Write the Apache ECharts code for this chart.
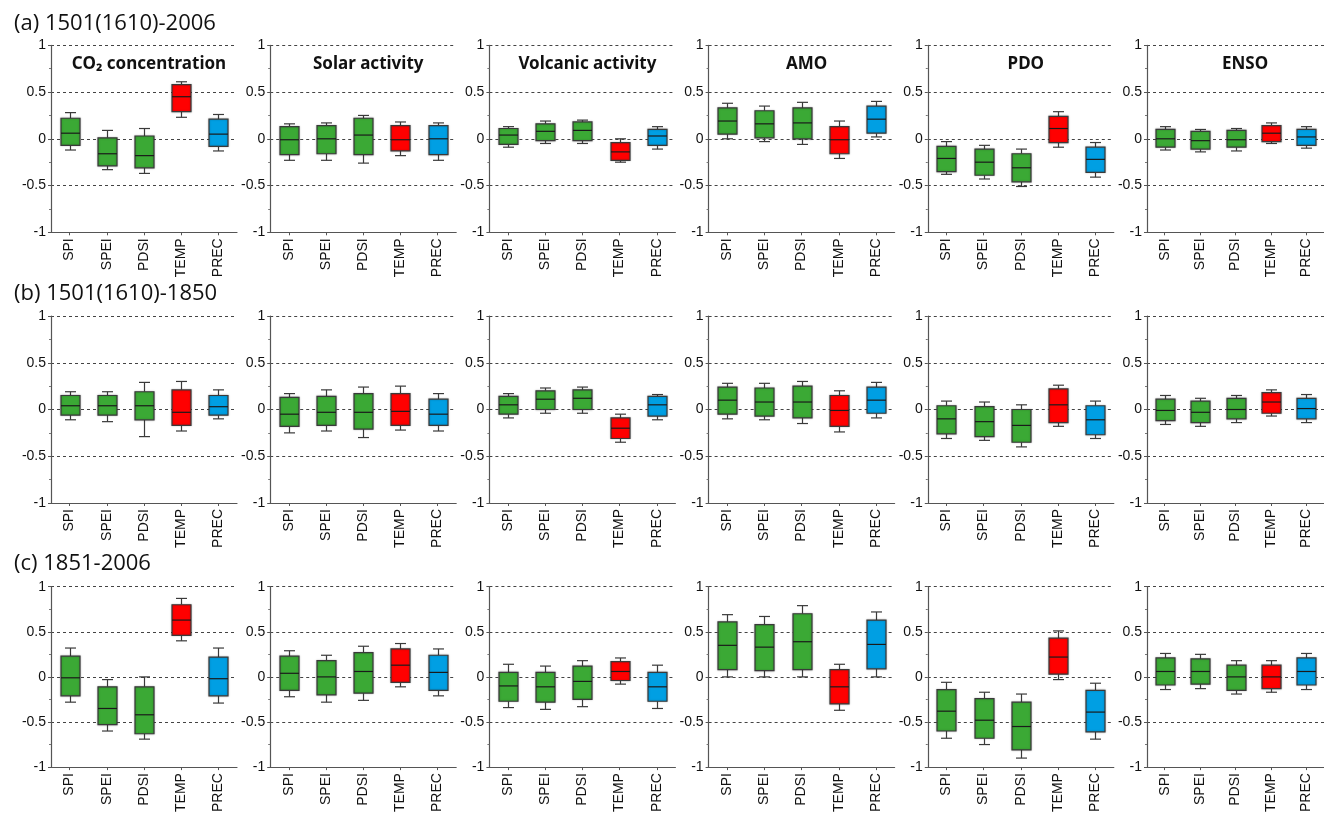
<!DOCTYPE html>
<html>
<head>
<meta charset="utf-8">
<script src="https://cdn.jsdelivr.net/npm/echarts@6/dist/echarts.min.js"></script>
<style>
html,body{margin:0;padding:0;background:#fff;}
#chart{width:1324px;height:815px;}
</style>
</head>
<body>
<div id="chart"></div>
<script>
// ---------- DATA ----------
const categories = ['SPI', 'SPEI', 'PDSI', 'TEMP', 'PREC'];
const yTicks = [-1, -0.5, 0, 0.5, 1];
const rowLabels = ['(a) 1501(1610)-2006', '(b) 1501(1610)-1850', '(c) 1851-2006'];
const panelTitles = ['CO\u2082 concentration', 'Solar activity', 'Volcanic activity', 'AMO', 'PDO', 'ENSO'];

// each box: [min, Q1, median, Q3, max]   (SPI, SPEI, PDSI, TEMP, PREC)
// (a) 1501(1610)-2006
const a_CO2 = [[-0.12,-0.07,0.06,0.22,0.28],[-0.33,-0.29,-0.16,0.01,0.09],[-0.37,-0.31,-0.18,0.03,0.11],[0.23,0.29,0.45,0.58,0.61],[-0.13,-0.08,0.05,0.21,0.26]];
const a_Solar = [[-0.23,-0.17,-0.01,0.13,0.16],[-0.23,-0.16,0.00,0.14,0.17],[-0.26,-0.17,0.04,0.22,0.25],[-0.18,-0.13,-0.01,0.14,0.18],[-0.23,-0.17,0.00,0.14,0.17]];
const a_Volc = [[-0.09,-0.06,0.04,0.11,0.13],[-0.05,-0.02,0.08,0.16,0.19],[-0.05,-0.02,0.09,0.18,0.20],[-0.25,-0.23,-0.14,-0.04,0.00],[-0.11,-0.07,0.03,0.10,0.13]];
const a_AMO = [[0.00,0.05,0.19,0.33,0.38],[-0.03,0.01,0.16,0.30,0.35],[-0.06,0.00,0.17,0.33,0.39],[-0.21,-0.16,-0.01,0.13,0.19],[0.02,0.06,0.21,0.35,0.40]];
const a_PDO = [[-0.38,-0.35,-0.21,-0.08,-0.03],[-0.43,-0.39,-0.25,-0.11,-0.07],[-0.51,-0.46,-0.31,-0.16,-0.11],[-0.09,-0.04,0.11,0.24,0.29],[-0.41,-0.36,-0.22,-0.09,-0.04]];
const a_ENSO = [[-0.12,-0.09,0.00,0.10,0.13],[-0.14,-0.11,-0.02,0.08,0.10],[-0.13,-0.09,-0.01,0.09,0.11],[-0.05,-0.03,0.06,0.14,0.17],[-0.10,-0.07,0.02,0.10,0.13]];
// (b) 1501(1610)-1850
const b_CO2 = [[-0.11,-0.06,0.04,0.15,0.19],[-0.13,-0.06,0.04,0.15,0.19],[-0.29,-0.11,0.04,0.19,0.29],[-0.23,-0.17,-0.03,0.21,0.30],[-0.10,-0.06,0.03,0.15,0.21]];
const b_Solar = [[-0.25,-0.18,-0.05,0.13,0.17],[-0.23,-0.17,-0.03,0.14,0.21],[-0.30,-0.21,-0.03,0.17,0.24],[-0.22,-0.17,-0.02,0.17,0.25],[-0.23,-0.17,-0.05,0.11,0.17]];
const b_Volc = [[-0.09,-0.05,0.05,0.14,0.17],[-0.04,0.00,0.11,0.20,0.23],[-0.04,0.00,0.12,0.21,0.24],[-0.35,-0.31,-0.20,-0.09,-0.05],[-0.11,-0.07,0.05,0.14,0.16]];
const b_AMO = [[-0.10,-0.05,0.10,0.24,0.28],[-0.11,-0.07,0.08,0.23,0.28],[-0.15,-0.09,0.08,0.25,0.30],[-0.24,-0.18,-0.01,0.15,0.20],[-0.09,-0.04,0.10,0.24,0.29]];
const b_PDO = [[-0.31,-0.26,-0.10,0.04,0.09],[-0.33,-0.29,-0.13,0.03,0.08],[-0.40,-0.35,-0.17,0.00,0.05],[-0.18,-0.14,0.05,0.22,0.26],[-0.31,-0.27,-0.11,0.04,0.09]];
const b_ENSO = [[-0.16,-0.12,-0.01,0.11,0.15],[-0.18,-0.14,-0.03,0.09,0.12],[-0.14,-0.10,0.00,0.12,0.15],[-0.07,-0.04,0.08,0.18,0.21],[-0.14,-0.10,0.01,0.12,0.16]];
// (c) 1851-2006
const c_CO2 = [[-0.28,-0.21,-0.01,0.23,0.32],[-0.60,-0.53,-0.35,-0.11,-0.03],[-0.69,-0.63,-0.42,-0.11,0.00],[0.40,0.46,0.63,0.80,0.87],[-0.29,-0.21,-0.02,0.22,0.32]];
const c_Solar = [[-0.22,-0.15,0.04,0.23,0.29],[-0.28,-0.20,0.00,0.18,0.24],[-0.26,-0.18,0.06,0.27,0.34],[-0.11,-0.06,0.13,0.31,0.37],[-0.21,-0.15,0.05,0.24,0.31]];
const c_Volc = [[-0.34,-0.27,-0.10,0.05,0.14],[-0.36,-0.28,-0.11,0.05,0.12],[-0.33,-0.25,-0.05,0.12,0.18],[-0.08,-0.04,0.06,0.17,0.21],[-0.35,-0.27,-0.11,0.05,0.13]];
const c_AMO = [[0.00,0.08,0.35,0.61,0.69],[0.00,0.07,0.33,0.58,0.67],[0.00,0.08,0.39,0.70,0.79],[-0.37,-0.30,-0.11,0.08,0.14],[0.00,0.09,0.36,0.63,0.72]];
const c_PDO = [[-0.68,-0.60,-0.38,-0.14,-0.06],[-0.75,-0.68,-0.48,-0.24,-0.17],[-0.90,-0.81,-0.55,-0.28,-0.19],[-0.03,0.03,0.22,0.43,0.51],[-0.69,-0.61,-0.39,-0.15,-0.07]];
const c_ENSO = [[-0.14,-0.09,0.06,0.21,0.26],[-0.13,-0.08,0.06,0.20,0.25],[-0.19,-0.15,0.00,0.13,0.18],[-0.17,-0.13,0.00,0.13,0.18],[-0.14,-0.09,0.06,0.21,0.26]];

const rows = [
  [a_CO2, a_Solar, a_Volc, a_AMO, a_PDO, a_ENSO],
  [b_CO2, b_Solar, b_Volc, b_AMO, b_PDO, b_ENSO],
  [c_CO2, c_Solar, c_Volc, c_AMO, c_PDO, c_ENSO]
];

// ---------- STYLE / LAYOUT ----------
const boxColors = ['#3BA935', '#3BA935', '#3BA935', '#FF0000', '#009FE3'];
const gridTops = [45.3, 316, 586.7];
const gridH = 187;
const gridLeft0 = 51, colStep = 219.2, gridW = 186;
const rowLabelY = [23, 293, 563];

const chart = echarts.init(document.getElementById('chart'), null, {renderer: 'canvas'});

function renderBox(params, api) {
  const xi = api.value(0);
  const pMin = api.coord([xi, api.value(1)]);
  const pQ1 = api.coord([xi, api.value(2)]);
  const pMed = api.coord([xi, api.value(3)]);
  const pQ3 = api.coord([xi, api.value(4)]);
  const pMax = api.coord([xi, api.value(5)]);
  const cx = Math.round(pMin[0]) + 0.5;
  const bw = 19, cw = 11;
  const line = '#3a3a3a';
  const ls = {stroke: line, lineWidth: 1.2};
  return {
    type: 'group',
    children: [
      {type: 'line', shape: {x1: cx, y1: pMax[1], x2: cx, y2: pQ3[1]}, style: ls},
      {type: 'line', shape: {x1: cx, y1: pMin[1], x2: cx, y2: pQ1[1]}, style: ls},
      {type: 'line', shape: {x1: cx - cw / 2, y1: pMax[1], x2: cx + cw / 2, y2: pMax[1]}, style: ls},
      {type: 'line', shape: {x1: cx - cw / 2, y1: pMin[1], x2: cx + cw / 2, y2: pMin[1]}, style: ls},
      {type: 'rect', shape: {x: cx - bw / 2, y: pQ3[1], width: bw, height: pQ1[1] - pQ3[1]},
        style: {fill: boxColors[xi], stroke: line, lineWidth: 1.2, shadowBlur: 2, shadowColor: 'rgba(0,0,0,0.25)'}},
      {type: 'line', shape: {x1: cx - bw / 2, y1: pMed[1], x2: cx + bw / 2, y2: pMed[1]}, style: {stroke: '#1a1a1a', lineWidth: 1.2}}
    ]
  };
}

const grids = [], xAxes = [], yAxes = [], series = [], titles = [];
rowLabels.forEach((t, r) => {
  titles.push({text: t, left: 9, top: rowLabelY[r] - 15,
    textStyle: {fontFamily: 'Open Sans', fontSize: 22, fontWeight: 'normal', color: '#111'}});
});
rows.forEach((row, r) => {
  row.forEach((panel, c) => {
    const idx = grids.length;
    const left = gridLeft0 + c * colStep;
    grids.push({left: left, top: gridTops[r], width: gridW, height: gridH, containLabel: false});
    xAxes.push({
      type: 'category', gridIndex: idx, data: categories, boundaryGap: true,
      axisLine: {show: true, onZero: false, lineStyle: {color: '#555', width: 1.2}},
      axisTick: {show: true, alignWithLabel: true, length: 3, lineStyle: {color: '#555'}},
      axisLabel: {rotate: 90, margin: 6, fontSize: 14, color: '#111', fontFamily: 'Liberation Sans', interval: 0},
      splitLine: {show: false}
    });
    yAxes.push({
      type: 'value', gridIndex: idx, min: -1, max: 1, interval: 0.5,
      axisLine: {show: true, lineStyle: {color: '#555', width: 1.2}},
      axisTick: {show: true, length: 3, lineStyle: {color: '#555'}},
      minorTick: {show: true, splitNumber: 2, length: 2, lineStyle: {color: '#777'}},
      axisLabel: {fontSize: 14, color: '#111', fontFamily: 'Liberation Sans', margin: 5,
        formatter: v => (yTicks.indexOf(v) >= 0 ? String(v) : '')},
      splitLine: {show: true, lineStyle: {color: '#444', type: [3, 3], width: 1}}
    });
    series.push({
      type: 'custom', xAxisIndex: idx, yAxisIndex: idx,
      renderItem: renderBox,
      encode: {x: 0, y: [1, 2, 3, 4, 5]},
      data: panel.map((b, i) => [i].concat(b)),
      silent: true, z: 3
    });
    if (r === 0) {
      titles.push({text: panelTitles[c], left: left + gridW / 2, top: gridTops[r] + 5, textAlign: 'center',
        textStyle: {fontFamily: 'Noto Sans', fontSize: 17, fontWeight: 'bold', color: '#111'}});
    }
  });
});

chart.setOption({
  backgroundColor: '#fff',
  animation: false,
  title: titles,
  grid: grids,
  xAxis: xAxes,
  yAxis: yAxes,
  series: series
});
</script>
</body>
</html>
